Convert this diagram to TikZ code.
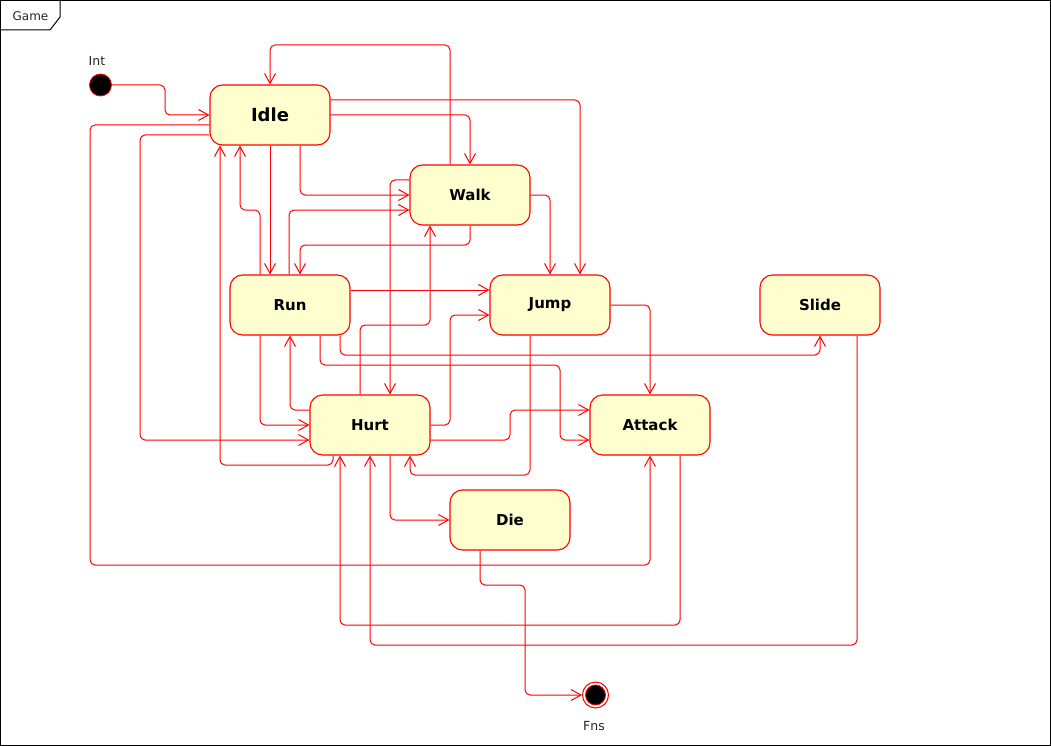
\documentclass[tikz,border=0pt]{standalone}
\usepackage{fontspec}
\setmainfont{DejaVu Sans}
\usetikzlibrary{arrows.meta}
\definecolor{statefill}{HTML}{FEFECE}
\begin{document}
\begin{tikzpicture}[x=1pt,y=-1pt,
  state/.style={rectangle, rounded corners=12.5pt, draw=red, line width=1.1pt, fill=statefill,
    minimum width=120pt, minimum height=60pt, inner sep=0pt, font=\fontsize{15}{17}\selectfont\bfseries},
  edge/.style={draw=red, line width=1pt, rounded corners=5pt, -{Straight Barb[length=10pt,width=11pt]}},
  lbl/.style={font=\fontsize{12.5}{14}\selectfont, text=black!85, inner sep=0pt},
  framestyle/.style={draw=black, line width=1pt}]
\useasboundingbox (0,0) rectangle (1051,746);
% frame
\draw[framestyle] (0.5,0.5) rectangle (1050.5,745.5);
\draw[framestyle] (0.5,30) -- (50,30) -- (60,17) -- (60,0.5);
\node[lbl, font=\fontsize{12}{14}\selectfont] (game) at (30.5,16) {Game};
% states
\node[state, font=\fontsize{18}{20}\selectfont\bfseries] (Idle) at (270,115) {Idle};
\node[state] (Walk) at (470,195) {Walk};
\node[state] (Run) at (290,305) {Run};
\node[state] (Jump) at (550,305) {Jump};
\node[state] (Slide) at (820,305) {Slide};
\node[state] (Hurt) at (370,425) {Hurt};
\node[state] (Attack) at (650,425) {Attack};
\node[state] (Die) at (510,520) {Die};
\node[circle, draw=red, fill=black, line width=0.8pt, minimum size=22pt, inner sep=0pt] (init) at (100.5,85) {};
\node[lbl] (intlbl) at (97,61) {Int};
\node[circle, draw=red, fill=white, line width=1pt, minimum size=26pt, inner sep=0pt] (fin) at (595.5,695) {};
\node[circle, draw=red, fill=black, line width=0.8pt, minimum size=20pt, inner sep=0pt] (finin) at (fin.center) {};
\node[lbl] (fnslbl) at (594,726) {Fns};
% transitions
\draw[edge] (init.east) -- (165,85) |- (Idle.west);
\draw[edge] (Walk.north -| 450,0) |- (270,45) -- (Idle.north);
\draw[edge] (Idle.east) -| (Walk.north);
\draw[edge] (Idle.east |- 0,100) -| (Jump.north -| 580,0);
\draw[edge] (Walk.east) -| (Jump.north);
\draw[edge] (Idle.south -| 300,0) |- (Walk.west);
\draw[edge] (Idle.south) -- (Run.north -| Idle.south);
\draw[edge] (Run.north -| 260,0) -- (260,210) -- (240,210) -- (Idle.south -| 240,0);
\draw[edge] (Run.north -| 289,0) |- (Walk.west |- 0,210);
\draw[edge] (Walk.south) |- (300,245) -- (Run.north -| 300,0);
\draw[edge] (Idle.west |- 0,125) -| (90,565) -| (Attack.south);
\draw[edge] (Idle.west |- 0,135) -| (140,440) -- (Hurt.west |- 0,440);
\draw[edge] (Hurt.south -| 333,0) |- (220,465) -- (Idle.south -| 220,0);
\draw[edge] (Run.east |- 0,290) -- (Jump.west |- 0,290);
\draw[edge] (Hurt.east) -- (450,425) |- (Jump.west |- 0,315);
\draw[edge] (Hurt.north -| 360,0) |- (430,325) -- (Walk.south -| 430,0);
\draw[edge] (Walk.west |- 0,180) -| (Hurt.north -| 390,0);
\draw[edge] (Run.south -| 340,0) |- (820,355) -- (Slide.south);
\draw[edge] (Run.south -| 320,0) |- (560,365) |- (Attack.west |- 0,440);
\draw[edge] (Run.south -| 260,0) |- (Hurt.west);
\draw[edge] (Hurt.west |- 0,410) -| (Run.south);
\draw[edge] (Hurt.east |- 0,440) -| (510,410) -- (Attack.west |- 0,410);
\draw[edge] (Jump.east) -| (Attack.north);
\draw[edge] (Jump.south -| 530,0) |- (410,475) -- (Hurt.south -| 410,0);
\draw[edge] (Hurt.south -| 390,0) |- (Die.west);
\draw[edge] (Attack.south -| 680,0) |- (340,625) -- (Hurt.south -| 340,0);
\draw[edge] (Slide.south -| 857,0) |- (370,645) -- (Hurt.south -| 370,0);
\draw[edge] (Die.south -| 480,0) |- (525,585) |- (fin.west);
\end{tikzpicture}
\end{document}
